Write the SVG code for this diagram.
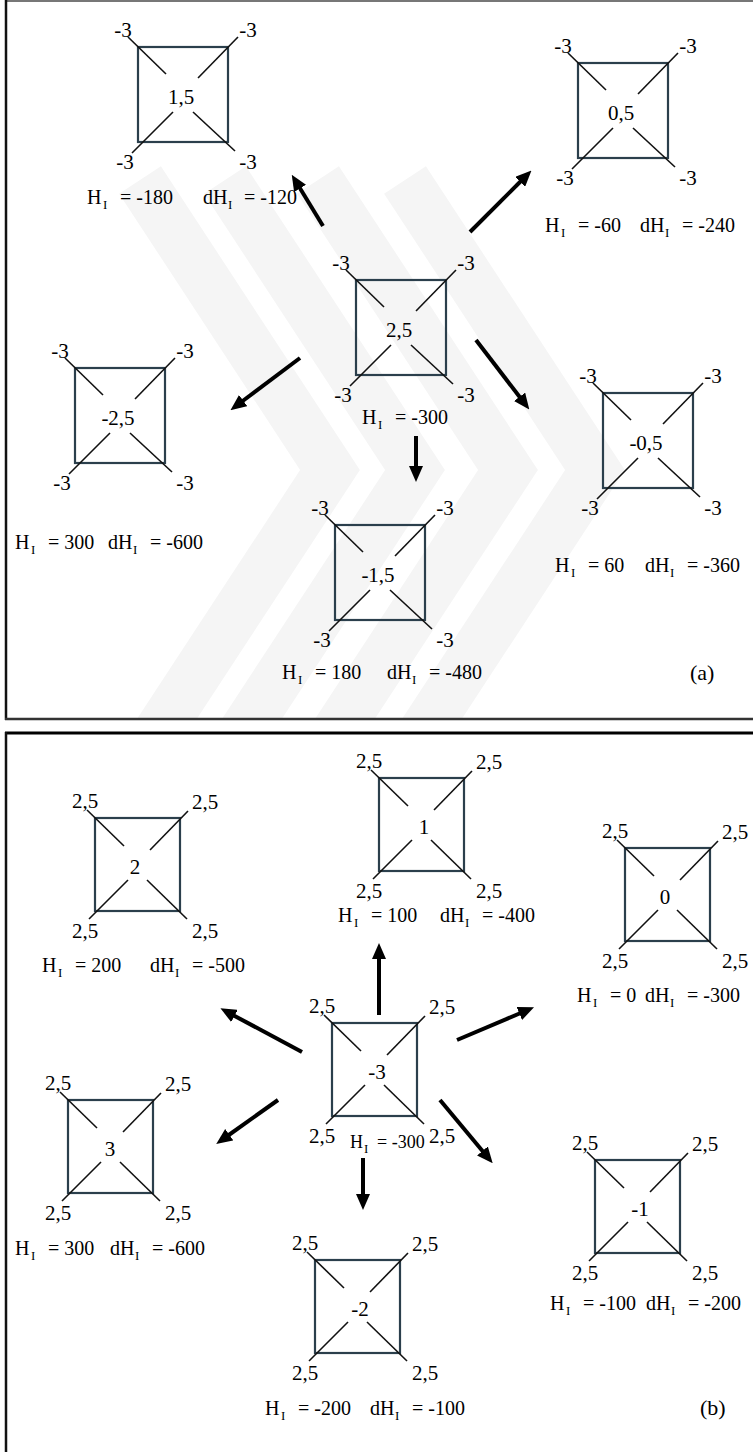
<svg xmlns="http://www.w3.org/2000/svg" xmlns:xlink="http://www.w3.org/1999/xlink" width="753" height="1452" viewBox="0 0 753 1452">
<style>
text{font-family:"Liberation Serif","Times New Roman",serif;fill:#000}
.lb{font-size:21px;text-anchor:middle}
.ct{font-size:21px;text-anchor:middle}
.h{font-size:20px}
.s{font-size:13px}
.box{fill:none;stroke:#2b3f4c;stroke-width:2.2}
.dg{stroke:#111;stroke-width:1.6}
.arr{stroke:#000;stroke-width:4;marker-end:url(#ah)}
.wm{fill:none;stroke:#f5f5f5;stroke-width:50;stroke-linejoin:miter}
</style>
<defs>
<marker id="ah" markerUnits="userSpaceOnUse" markerWidth="16" markerHeight="14" refX="4" refY="7" orient="auto">
<path d="M0,0 L16,7 L0,14 z" fill="#000"/>
</marker>
<g id="sqA">
<rect class="box" x="0" y="0" width="90" height="95"/>
<line class="dg" x1="-10" y1="-10" x2="28" y2="27"/>
<line class="dg" x1="100" y1="-10" x2="60" y2="31"/>
<line class="dg" x1="-6" y1="106" x2="35" y2="65"/>
<line class="dg" x1="97" y1="104" x2="55" y2="65"/>
</g>
<g id="sqB">
<rect class="box" x="0" y="0" width="85" height="93"/>
<line class="dg" x1="-8" y1="-8" x2="29" y2="28"/>
<line class="dg" x1="93" y1="-7" x2="55" y2="32"/>
<line class="dg" x1="-6" y1="101" x2="33" y2="62"/>
<line class="dg" x1="92" y1="101" x2="52" y2="62"/>
</g>
<clipPath id="clipA"><rect x="7" y="2" width="746" height="716"/></clipPath>
</defs>

<g id="watermark" clip-path="url(#clipA)">
<polyline class="wm" points="140,760 330,470 140,180"/>
<polyline class="wm" points="225,760 415,470 225,180"/>
<polyline class="wm" points="318,760 508,470 318,180"/>
<polyline class="wm" points="405,760 595,470 405,180"/>
</g>

<g id="frames">
<path d="M6,719 L6,1 L753,1" fill="none" stroke="#777" stroke-width="2"/>
<line x1="6" y1="0" x2="6" y2="720" stroke="#111" stroke-width="2.5"/>
<line x1="5" y1="719" x2="753" y2="719" stroke="#333" stroke-width="2.5"/>
<line x1="5" y1="733" x2="753" y2="733" stroke="#000" stroke-width="3"/>
<line x1="6" y1="732" x2="6" y2="1452" stroke="#111" stroke-width="2.5"/>
</g>

<g id="connectors">
<line class="arr" x1="323" y1="226" x2="298" y2="185"/>
<line class="arr" x1="470" y1="232" x2="523" y2="179"/>
<line class="arr" x1="300" y1="358" x2="240" y2="403"/>
<line class="arr" x1="416" y1="436" x2="416" y2="470"/>
<line class="arr" x1="476" y1="340" x2="522" y2="400"/>
<line class="arr" x1="379" y1="1015" x2="379" y2="955"/>
<line class="arr" x1="302" y1="1052" x2="231" y2="1014"/>
<line class="arr" x1="457" y1="1040" x2="523" y2="1012"/>
<line class="arr" x1="278" y1="1100" x2="226" y2="1137"/>
<line class="arr" x1="363" y1="1158" x2="363" y2="1198"/>
<line class="arr" x1="440" y1="1100" x2="485" y2="1154"/>
</g>

<!-- Panel (a) -->
<g id="a_n15" transform="translate(138,47)">
<use xlink:href="#sqA" href="#sqA"/>
<text class="lb" x="-15" y="-10">-3</text><text class="lb" x="110" y="-10">-3</text>
<text class="lb" x="-13" y="122">-3</text><text class="lb" x="110" y="122">-3</text>
<text class="ct" x="43" y="57">1,5</text>
</g>
<g id="a_n05" transform="translate(578,63)">
<use xlink:href="#sqA" href="#sqA"/>
<text class="lb" x="-15" y="-10">-3</text><text class="lb" x="110" y="-10">-3</text>
<text class="lb" x="-13" y="122">-3</text><text class="lb" x="110" y="122">-3</text>
<text class="ct" x="43" y="57">0,5</text>
</g>
<g id="a_n25" transform="translate(356,280)">
<use xlink:href="#sqA" href="#sqA"/>
<text class="lb" x="-15" y="-10">-3</text><text class="lb" x="110" y="-10">-3</text>
<text class="lb" x="-13" y="122">-3</text><text class="lb" x="110" y="122">-3</text>
<text class="ct" x="43" y="57">2,5</text>
</g>
<g id="a_nm25" transform="translate(75,368)">
<use xlink:href="#sqA" href="#sqA"/>
<text class="lb" x="-15" y="-10">-3</text><text class="lb" x="110" y="-10">-3</text>
<text class="lb" x="-13" y="122">-3</text><text class="lb" x="110" y="122">-3</text>
<text class="ct" x="43" y="57">-2,5</text>
</g>
<g id="a_nm15" transform="translate(335,525)">
<use xlink:href="#sqA" href="#sqA"/>
<text class="lb" x="-15" y="-10">-3</text><text class="lb" x="110" y="-10">-3</text>
<text class="lb" x="-13" y="122">-3</text><text class="lb" x="110" y="122">-3</text>
<text class="ct" x="43" y="57">-1,5</text>
</g>
<g id="a_nm05" transform="translate(603,393)">
<use xlink:href="#sqA" href="#sqA"/>
<text class="lb" x="-15" y="-10">-3</text><text class="lb" x="110" y="-10">-3</text>
<text class="lb" x="-13" y="122">-3</text><text class="lb" x="110" y="122">-3</text>
<text class="ct" x="43" y="57">-0,5</text>
</g>

<g id="a_labels">
<text class="h" x="87" y="204">H<tspan class="s" x="103" dy="5">I</tspan><tspan x="120" dy="-5">= -180</tspan></text>
<text class="h" x="203" y="204">dH<tspan class="s" x="228" dy="5">I</tspan><tspan x="244" dy="-5">= -120</tspan></text>
<text class="h" x="545" y="232">H<tspan class="s" x="561" dy="5">I</tspan><tspan x="578" dy="-5">= -60</tspan></text>
<text class="h" x="640" y="232">dH<tspan class="s" x="665" dy="5">I</tspan><tspan x="682" dy="-5">= -240</tspan></text>
<text class="h" x="362" y="424">H<tspan class="s" x="378" dy="5">I</tspan><tspan x="395" dy="-5">= -300</tspan></text>
<text class="h" x="15" y="549">H<tspan class="s" x="31" dy="5">I</tspan><tspan x="48" dy="-5">= 300</tspan></text>
<text class="h" x="108" y="549">dH<tspan class="s" x="133" dy="5">I</tspan><tspan x="150" dy="-5">= -600</tspan></text>
<text class="h" x="282" y="679">H<tspan class="s" x="298" dy="5">I</tspan><tspan x="315" dy="-5">= 180</tspan></text>
<text class="h" x="387" y="679">dH<tspan class="s" x="412" dy="5">I</tspan><tspan x="429" dy="-5">= -480</tspan></text>
<text class="h" x="555" y="572">H<tspan class="s" x="571" dy="5">I</tspan><tspan x="588" dy="-5">= 60</tspan></text>
<text class="h" x="645" y="572">dH<tspan class="s" x="670" dy="5">I</tspan><tspan x="687" dy="-5">= -360</tspan></text>
<text class="h" x="690" y="680" style="font-size:22px">(a)</text>
</g>

<!-- Panel (b) -->
<g id="b_n1" transform="translate(379,778)">
<use xlink:href="#sqB" href="#sqB"/>
<text class="lb" x="-10" y="-10">2,5</text><text class="lb" x="110" y="-9">2,5</text>
<text class="lb" x="-10" y="120">2,5</text><text class="lb" x="110" y="120">2,5</text>
<text class="ct" x="45" y="56">1</text>
</g>
<g id="b_n2" transform="translate(95,818)">
<use xlink:href="#sqB" href="#sqB"/>
<text class="lb" x="-10" y="-10">2,5</text><text class="lb" x="110" y="-9">2,5</text>
<text class="lb" x="-10" y="120">2,5</text><text class="lb" x="110" y="120">2,5</text>
<text class="ct" x="40" y="56">2</text>
</g>
<g id="b_n0" transform="translate(625,848)">
<use xlink:href="#sqB" href="#sqB"/>
<text class="lb" x="-10" y="-10">2,5</text><text class="lb" x="110" y="-9">2,5</text>
<text class="lb" x="-10" y="120">2,5</text><text class="lb" x="110" y="120">2,5</text>
<text class="ct" x="40" y="56">0</text>
</g>
<g id="b_nm3" transform="translate(332,1023)">
<use xlink:href="#sqB" href="#sqB"/>
<text class="lb" x="-10" y="-10">2,5</text><text class="lb" x="110" y="-9">2,5</text>
<text class="lb" x="-10" y="120">2,5</text><text class="lb" x="110" y="120">2,5</text>
<text class="ct" x="45" y="56">-3</text>
</g>
<g id="b_n3" transform="translate(68,1100)">
<use xlink:href="#sqB" href="#sqB"/>
<text class="lb" x="-10" y="-10">2,5</text><text class="lb" x="110" y="-9">2,5</text>
<text class="lb" x="-10" y="120">2,5</text><text class="lb" x="110" y="120">2,5</text>
<text class="ct" x="42" y="56">3</text>
</g>
<g id="b_nm2" transform="translate(315,1260)">
<use xlink:href="#sqB" href="#sqB"/>
<text class="lb" x="-10" y="-10">2,5</text><text class="lb" x="110" y="-9">2,5</text>
<text class="lb" x="-10" y="120">2,5</text><text class="lb" x="110" y="120">2,5</text>
<text class="ct" x="45" y="56">-2</text>
</g>
<g id="b_nm1" transform="translate(595,1160)">
<use xlink:href="#sqB" href="#sqB"/>
<text class="lb" x="-10" y="-10">2,5</text><text class="lb" x="110" y="-9">2,5</text>
<text class="lb" x="-10" y="120">2,5</text><text class="lb" x="110" y="120">2,5</text>
<text class="ct" x="45" y="56">-1</text>
</g>

<g id="b_labels">
<text class="h" x="338" y="922">H<tspan class="s" x="354" dy="5">I</tspan><tspan x="371" dy="-5">= 100</tspan></text>
<text class="h" x="440" y="922">dH<tspan class="s" x="465" dy="5">I</tspan><tspan x="482" dy="-5">= -400</tspan></text>
<text class="h" x="42" y="972">H<tspan class="s" x="58" dy="5">I</tspan><tspan x="75" dy="-5">= 200</tspan></text>
<text class="h" x="150" y="972">dH<tspan class="s" x="175" dy="5">I</tspan><tspan x="192" dy="-5">= -500</tspan></text>
<text class="h" x="577" y="1002">H<tspan class="s" x="593" dy="5">I</tspan><tspan x="610" dy="-5">= 0</tspan></text>
<text class="h" x="645" y="1002">dH<tspan class="s" x="670" dy="5">I</tspan><tspan x="687" dy="-5">= -300</tspan></text>
<text class="h" x="350" y="1148" style="font-size:18px">H<tspan class="s" x="364" dy="5">I</tspan><tspan x="377" dy="-5">= -300</tspan></text>
<text class="h" x="15" y="1255">H<tspan class="s" x="31" dy="5">I</tspan><tspan x="48" dy="-5">= 300</tspan></text>
<text class="h" x="110" y="1255">dH<tspan class="s" x="135" dy="5">I</tspan><tspan x="152" dy="-5">= -600</tspan></text>
<text class="h" x="550" y="1310">H<tspan class="s" x="566" dy="5">I</tspan><tspan x="583" dy="-5">= -100</tspan></text>
<text class="h" x="646" y="1310">dH<tspan class="s" x="671" dy="5">I</tspan><tspan x="688" dy="-5">= -200</tspan></text>
<text class="h" x="265" y="1415">H<tspan class="s" x="281" dy="5">I</tspan><tspan x="298" dy="-5">= -200</tspan></text>
<text class="h" x="370" y="1415">dH<tspan class="s" x="395" dy="5">I</tspan><tspan x="412" dy="-5">= -100</tspan></text>
<text class="h" x="700" y="1415" style="font-size:22px">(b)</text>
</g>
</svg>
